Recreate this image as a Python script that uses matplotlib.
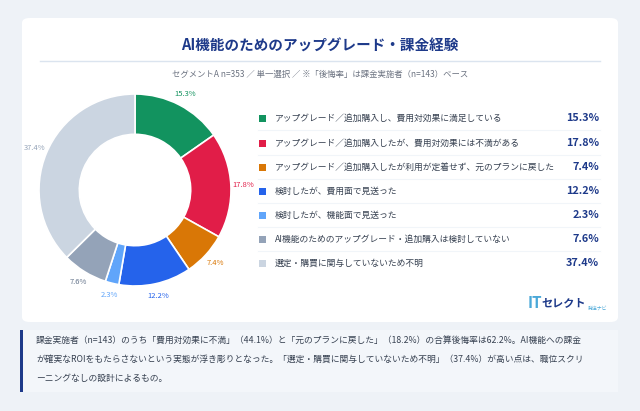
import matplotlib
matplotlib.use("Agg")
import matplotlib.pyplot as plt
from matplotlib.patches import FancyBboxPatch, Rectangle
import numpy as np

plt.rcParams['font.family'] = ['Noto Sans CJK JP', 'DejaVu Sans']

# data
labels = [
    "アップグレード／追加購入し、費用対効果に満足している",
    "アップグレード／追加購入したが、費用対効果には不満がある",
    "アップグレード／追加購入したが利用が定着せず、元のプランに戻した",
    "検討したが、費用面で見送った",
    "検討したが、機能面で見送った",
    "AI機能のためのアップグレード・追加購入は検討していない",
    "選定・購買に関与していないため不明",
]
values = [15.3, 17.8, 7.4, 12.2, 2.3, 7.6, 37.4]
colors = ['#12935f', '#e11d48', '#d97706', '#2563eb', '#60a5fa', '#94a3b8', '#cbd5e1']
label_colors = ['#12935f', '#e11d48', '#d97706', '#2563eb', '#60a5fa', '#64748b', '#94a3b8']

W, H = 640, 411
fig = plt.figure(figsize=(W / 100, H / 100), dpi=100)
fig.patch.set_facecolor('#eef2f7')

def fx(x): return x / W
def fy(y): return 1 - y / H

# white card
fig.patches.append(FancyBboxPatch((fx(22), fy(322)), fx(596), 304 / H,
                                  boxstyle="round,pad=0,rounding_size=0.012",
                                  transform=fig.transFigure, facecolor='white',
                                  edgecolor='none', zorder=-2))
# note box
fig.patches.append(Rectangle((fx(22), fy(392)), fx(596), 62 / H,
                             transform=fig.transFigure, facecolor='#f3f6fa',
                             edgecolor='none', zorder=-2))
fig.patches.append(Rectangle((fx(20), fy(392)), fx(3), 62 / H,
                             transform=fig.transFigure, facecolor='#1e3a8a',
                             edgecolor='none', zorder=-1))

fig.text(0.5, fy(46), "AI機能のためのアップグレード・課金経験", ha='center', va='center',
         fontsize=10.5, fontweight='bold', color='#1e3a8a')
fig.add_artist(plt.Line2D([fx(40), fx(600)], [fy(61), fy(61)], color='#dbe4ef', lw=1))
fig.text(0.5, fy(74), "セグメントA n=353 ／ 単一選択 ／ ※「後悔率」は課金実施者（n=143）ベース",
         ha='center', va='center', fontsize=6, color='#6b7280')

# donut
cx, cy, r = 135, 190, 96
ax = fig.add_axes([fx(cx - r), fy(cy + r), 2 * r / W, 2 * r / H])
ax.set_zorder(2)
ax.patch.set_visible(False)
wedges, _ = ax.pie(values, colors=colors, startangle=90, counterclock=False,
                   wedgeprops=dict(width=0.42, edgecolor='white', linewidth=1.2))
ax.set_aspect('equal')
ang = 90.0
for v, c in zip(values, label_colors):
    mid = np.deg2rad(ang - v * 3.6 / 2)
    ax.text(1.13 * np.cos(mid), 1.13 * np.sin(mid), f"{v}%", ha='center', va='center',
            fontsize=5.5, color=c, clip_on=False)
    ang -= v * 3.6
ax.set_xlim(-1, 1)
ax.set_ylim(-1, 1)
ax.axis('off')

# legend rows
row_y = [118, 143, 167, 191, 215, 239, 263]
for y, lab, v, c in zip(row_y, labels, values, colors):
    fig.patches.append(Rectangle((fx(259), fy(y + 4)), fx(7), 7 / H, transform=fig.transFigure,
                                 facecolor=c, edgecolor='none'))
    fig.text(fx(275), fy(y), lab, ha='left', va='center', fontsize=6.3, color='#374151')
    fig.text(fx(599), fy(y), f"{v}%", ha='right', va='center', fontsize=7.8,
             fontweight='bold', color='#1e3a8a')
for y in row_y[:-1]:
    fig.add_artist(plt.Line2D([fx(258), fx(600)], [fy(y + 12), fy(y + 12)],
                              color='#f1f5f9', lw=0.8))

# logo
fig.text(fx(528), fy(303), "IT", ha='left', va='center', fontsize=11, fontweight='bold', color='#4aa8d8')
fig.text(fx(541), fy(303), "セレクト", ha='left', va='center', fontsize=8, fontweight='bold', color='#1e3a8a')
fig.text(fx(588), fy(308), "発注ナビ", ha='left', va='center', fontsize=3.5, color='#4aa8d8')

note = ["課金実施者（n=143）のうち「費用対効果に不満」（44.1%）と「元のプランに戻した」（18.2%）の合算後悔率は62.2%。AI機能への課金",
        "が確実なROIをもたらさないという実態が浮き彫りとなった。「選定・購買に関与していないため不明」（37.4%）が高い点は、職位スクリ",
        "ーニングなしの設計によるもの。"]
for i, line in enumerate(note):
    fig.text(fx(36), fy(340 + i * 19), line, ha='left', va='center', fontsize=6.3, color='#374151')

fig.savefig('out.png', dpi=100, facecolor=fig.get_facecolor())
